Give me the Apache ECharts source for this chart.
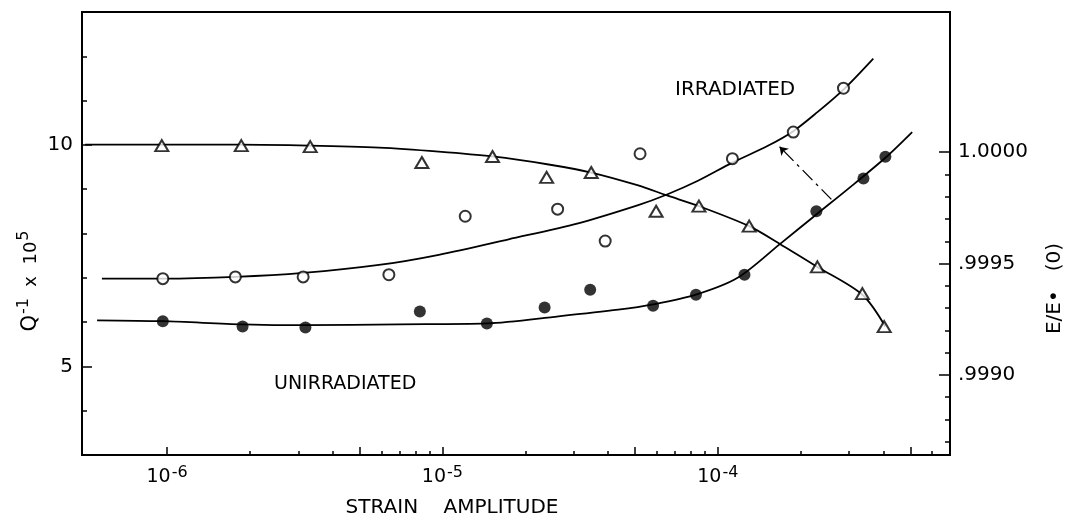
<!DOCTYPE html>
<html><head><meta charset="utf-8">
<script src="https://cdn.jsdelivr.net/npm/echarts@6/dist/echarts.min.js"></script>
<style>html,body{margin:0;padding:0;background:#fff}#c{width:1073px;height:523px}</style>
</head><body><div id="c"></div>
<script>
// ---- axis ranges & tick values ----
const strainRange = [4.91e-7, 6.97e-4];
const qRange = [3, 13];
const modRange = [0.99864, 1.00063];
const strainMajorTicks = [1e-6, 5e-6, 1e-5, 5e-5, 1e-4, 5e-4];
const strainMinorTicks = [2e-6,3e-6,4e-6,6e-6,7e-6,8e-6,9e-6,2e-5,3e-5,4e-5,6e-5,7e-5,8e-5,9e-5,2e-4,3e-4,4e-4,6e-4];
const strainLabels = [1e-6, 1e-5, 1e-4];
const qMajorTicks = [5, 10];
const qMinorTicks = [4, 6, 7, 8, 9, 11, 12];
const modMajorTicks = [0.999, 0.9995, 1.0];
const modMinorTicks = [0.9987,0.9988,0.9989,0.9991,0.9992,0.9993,0.9994,0.9996,0.9997,0.9998,0.9999];

// ---- E/E0 (triangles, right axis) ----
const modStrain = [9.57e-7, 1.86e-6, 3.31e-6, 8.42e-6, 1.52e-5, 2.39e-5, 3.47e-5, 5.97e-5, 8.54e-5, 1.30e-4, 2.30e-4, 3.35e-4, 4.02e-4];
const modValue  = [1.00003, 1.00003, 1.000025, 0.999954, 0.999981, 0.999887, 0.999909, 0.999735, 0.999758, 0.999668, 0.999485, 0.999365, 0.999217];
const modCurveStrain = [5.04e-7, 9.41e-7, 1.83e-6, 3.28e-6, 5.88e-6, 9.70e-6, 1.52e-5, 2.43e-5, 3.47e-5, 5.14e-5, 6.54e-5, 8.54e-5, 1.30e-4, 1.68e-4, 2.30e-4, 3.35e-4, 4.06e-4];
const modCurveValue  = [1.000034, 1.000034, 1.000034, 1.00003, 1.000021, 1.000003, 0.999981, 0.999945, 0.999909, 0.999851, 0.999806, 0.999758, 0.999668, 0.999588, 0.999485, 0.99936, 0.999217];

// ---- Q^-1 irradiated (open circles) ----
const irrStrain = [9.65e-7, 1.77e-6, 3.12e-6, 6.39e-6, 1.21e-5, 2.62e-5, 3.90e-5, 5.22e-5, 1.13e-4, 1.88e-4, 2.86e-4];
const irrQ      = [6.98, 7.02, 7.02, 7.07, 8.39, 8.55, 7.83, 9.80, 9.69, 10.29, 11.28];
const irrCurveStrain = [5.80e-7, 9.73e-7, 1.77e-6, 3.12e-6, 5.88e-6, 9.70e-6, 1.74e-5, 3.11e-5, 5.14e-5, 6.54e-5, 8.47e-5, 1.13e-4, 1.52e-4, 1.88e-4, 2.30e-4, 2.86e-4, 3.67e-4];
const irrCurveQ      = [6.98, 6.98, 7.02, 7.11, 7.29, 7.52, 7.87, 8.23, 8.64, 8.88, 9.19, 9.60, 9.98, 10.31, 10.74, 11.25, 11.95];

// ---- Q^-1 unirradiated (filled circles) ----
const unirrStrain = [9.65e-7, 1.88e-6, 3.18e-6, 8.28e-6, 1.45e-5, 2.35e-5, 3.44e-5, 5.82e-5, 8.33e-5, 1.25e-4, 2.28e-4, 3.38e-4, 4.06e-4];
const unirrQ      = [6.02, 5.90, 5.88, 6.24, 5.97, 6.33, 6.73, 6.37, 6.62, 7.07, 8.50, 9.24, 9.73];
const unirrCurveStrain = [5.57e-7, 9.65e-7, 1.88e-6, 3.18e-6, 6.95e-6, 1.45e-5, 2.64e-5, 4.35e-5, 5.82e-5, 8.33e-5, 1.18e-4, 1.68e-4, 2.28e-4, 2.95e-4, 4.06e-4, 5.08e-4];
const unirrCurveQ      = [6.04, 6.02, 5.95, 5.93, 5.95, 5.97, 6.13, 6.28, 6.40, 6.62, 7.00, 7.76, 8.43, 8.99, 9.71, 10.29];

// ---- arrow (tail -> head) ----
const arrowStrain = [2.585e-4, 1.676e-4];
const arrowQ = [8.77, 9.96];

const FONT = 'DejaVu Sans';
const zip = (a, b) => a.map((v, i) => [v, b[i]]);
const tickStyle = {color: '#000', width: 1.5};
const curveStyle = {color: '#000', width: 1.8};

const chart = echarts.init(document.getElementById('c'), null, {renderer: 'canvas'});
chart.setOption({
  animation: false,
  backgroundColor: '#fff',
  grid: {left: 82, right: 120, top: 12, bottom: 65, show: true, borderColor: '#000', borderWidth: 2, backgroundColor: 'transparent'},
  xAxis: [
    {type: 'log', position: 'bottom', min: strainRange[0], max: strainRange[1],
     axisLine: {show: true, lineStyle: {color: '#000', width: 2}},
     axisTick: {show: true, inside: true, length: 8, lineStyle: tickStyle, customValues: strainMajorTicks},
     axisLabel: {show: true, margin: 10, customValues: strainLabels, color: '#000',
       formatter: v => '{b|10}{s|' + Math.round(Math.log10(v)) + '}',
       rich: {b: {fontSize: 19, fontFamily: FONT, color: '#000'},
              s: {fontSize: 16, fontFamily: FONT, color: '#000', verticalAlign: 'bottom', padding: [0, 0, 9, 1]}}},
     splitLine: {show: false}, minorTick: {show: false},
     name: 'STRAIN    AMPLITUDE', nameLocation: 'middle', nameGap: 43,
     nameTextStyle: {fontSize: 20, fontFamily: FONT, color: '#000', padding: [0, 128, 0, 0]}},
    {type: 'log', position: 'bottom', min: strainRange[0], max: strainRange[1],
     axisLine: {show: false},
     axisTick: {show: true, inside: true, length: 4, lineStyle: tickStyle, customValues: strainMinorTicks},
     axisLabel: {show: false}, splitLine: {show: false}}
  ],
  yAxis: [
    {type: 'value', position: 'left', min: qRange[0], max: qRange[1], interval: 1,
     axisLine: {show: true, lineStyle: {color: '#000', width: 2}},
     axisTick: {show: true, inside: true, length: 10, lineStyle: tickStyle, customValues: qMajorTicks},
     axisLabel: {show: true, margin: 9, customValues: qMajorTicks, color: '#000', fontSize: 20, fontFamily: FONT},
     splitLine: {show: false}},
    {type: 'value', position: 'left', min: qRange[0], max: qRange[1], interval: 1,
     axisLine: {show: false},
     axisTick: {show: true, inside: true, length: 5, lineStyle: tickStyle, customValues: qMinorTicks},
     axisLabel: {show: false}, splitLine: {show: false}},
    {type: 'value', position: 'right', min: modRange[0], max: modRange[1],
     axisLine: {show: true, lineStyle: {color: '#000', width: 2}},
     axisTick: {show: true, inside: true, length: 11, lineStyle: tickStyle, customValues: modMajorTicks},
     axisLabel: {show: true, margin: 8, customValues: modMajorTicks, color: '#000', fontSize: 20, fontFamily: FONT,
       formatter: v => v >= 1 ? '1.0000' : v.toFixed(4).slice(1)},
     splitLine: {show: false},
     name: 'E/E•   (0)', nameLocation: 'middle', nameGap: 95,
     nameTextStyle: {fontSize: 20, fontFamily: FONT, color: '#000', padding: [0, 110, 0, 0]}},
    {type: 'value', position: 'right', min: modRange[0], max: modRange[1],
     axisLine: {show: false},
     axisTick: {show: true, inside: true, length: 5, lineStyle: tickStyle, customValues: modMinorTicks},
     axisLabel: {show: false}, splitLine: {show: false}}
  ],
  series: [
    {name: 'E/E0 fit', type: 'line', xAxisIndex: 0, yAxisIndex: 2, data: zip(modCurveStrain, modCurveValue),
     smooth: 0.3, showSymbol: false, lineStyle: curveStyle, z: 2},
    {name: 'Q-1 irradiated fit', type: 'line', xAxisIndex: 0, yAxisIndex: 0, data: zip(irrCurveStrain, irrCurveQ),
     smooth: 0.3, showSymbol: false, lineStyle: curveStyle, z: 2,
     markLine: {silent: true, animation: false, symbol: ['none', 'arrow'], symbolSize: 8, label: {show: false},
       lineStyle: {color: '#000', width: 1.3, type: [14, 5, 3, 5]},
       data: [[{coord: [arrowStrain[0], arrowQ[0]]}, {coord: [arrowStrain[1], arrowQ[1]]}]]}},
    {name: 'Q-1 unirradiated fit', type: 'line', xAxisIndex: 0, yAxisIndex: 0, data: zip(unirrCurveStrain, unirrCurveQ),
     smooth: 0.3, showSymbol: false, lineStyle: curveStyle, z: 2},
    {name: 'E/E0', type: 'scatter', xAxisIndex: 0, yAxisIndex: 2, data: zip(modStrain, modValue),
     symbol: 'triangle', symbolSize: [13, 11], itemStyle: {color: '#fff', borderColor: '#000', borderWidth: 2}, z: 3},
    {name: 'Irradiated', type: 'scatter', xAxisIndex: 0, yAxisIndex: 0, data: zip(irrStrain, irrQ),
     symbol: 'circle', symbolSize: 11, itemStyle: {color: '#fff', borderColor: '#000', borderWidth: 2}, z: 3},
    {name: 'Unirradiated', type: 'scatter', xAxisIndex: 0, yAxisIndex: 0, data: zip(unirrStrain, unirrQ),
     symbol: 'circle', symbolSize: 12, itemStyle: {color: '#000'}, z: 3}
  ],
  graphic: [
    {type: 'text', left: 675, top: 80, style: {text: 'IRRADIATED', font: '20px "DejaVu Sans"', fill: '#000'}},
    {type: 'text', left: 274, top: 375, style: {text: 'UNIRRADIATED', font: '19px "DejaVu Sans"', fill: '#000'}},
    {type: 'text', x: 46, y: 281, rotation: Math.PI / 2,
     style: {text: '{q|Q}{s|-1}{m|  x  10}{s|5}', align: 'center', verticalAlign: 'bottom', fill: '#000',
       rich: {q: {fontSize: 21, fontFamily: FONT, fill: '#000'},
              m: {fontSize: 18, fontFamily: FONT, fill: '#000'},
              s: {fontSize: 16, fontFamily: FONT, fill: '#000', verticalAlign: 'bottom', padding: [0, 0, 14, 1]}}}}
  ]
});
</script>
</body></html>
